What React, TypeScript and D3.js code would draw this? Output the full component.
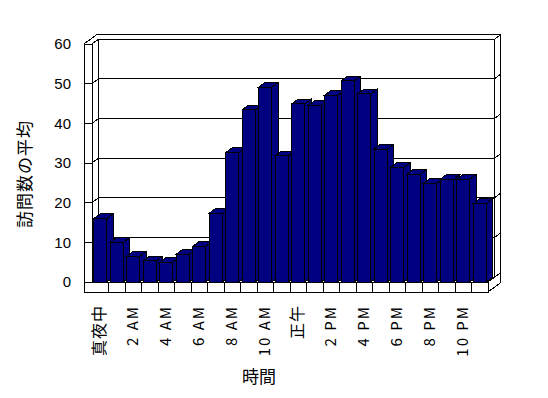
import { useEffect, useRef } from 'react'
import * as d3 from 'd3'

const hours = d3.range(24).map(String)
const visits = [16, 10, 6.5, 5.3, 5.0, 7.0, 9.0, 17.3, 32.6, 43.4, 49.1, 31.8, 44.9, 44.5, 47.1, 50.7, 47.4, 33.5, 28.9, 27.2, 24.9, 25.9, 25.9, 19.8]
const hourLabels = ['真夜中', '2 AM', '4 AM', '6 AM', '8 AM', '10 AM', '正午', '2 PM', '4 PM', '6 PM', '8 PM', '10 PM']
const yTicks = [0, 10, 20, 30, 40, 50, 60]

const JP = '"Noto Sans CJK JP", "Noto Sans", sans-serif'
const NAVY = '#000080'

export default function App() {
  const ref = useRef<SVGSVGElement>(null)

  useEffect(() => {
    document.body.style.margin = '0'
    const svg = d3.select(ref.current)
    svg.selectAll('*').remove()

    const x0 = 92, x1 = 488
    const wallLeft = 84
    const floorH = 10
    const dx = 6.3, dy = -4.7 // depth step

    const x = d3.scaleBand<string>().domain(hours).range([x0, x1]).paddingInner(0.2).paddingOuter(0.1)
    const step = x.step()
    const y = d3.scaleLinear().domain([0, 60]).range([282, 44])
    const y0 = y(0), yTop = y(60)

    const g = svg.append('g').attr('shape-rendering', 'crispEdges')
    const pts = (p: number[][]) => p.map(d => d.join(',')).join(' ')
    const line = (a: number, b: number, c: number, d: number) =>
      g.append('line').attr('x1', a).attr('y1', b).attr('x2', c).attr('y2', d).attr('stroke', '#000')

    // back wall
    g.append('rect').attr('x', x0 + dx).attr('y', yTop + dy).attr('width', x1 - x0).attr('height', y0 - yTop)
      .attr('fill', '#fff').attr('stroke', '#000')
    g.append('polygon').attr('points', pts([[x0 + dx, yTop + dy], [x1 + dx, yTop + dy], [x1 + 2 * dx, yTop + 2 * dy], [x0 + 2 * dx, yTop + 2 * dy]]))
      .attr('fill', '#fff')
    g.append('polygon').attr('points', pts([[x1 + dx, yTop + dy], [x1 + 2 * dx, yTop + 2 * dy], [x1 + 2 * dx, y0 + 2 * dy], [x1 + dx, y0 + dy]]))
      .attr('fill', '#fff').attr('stroke', '#000')
    line(wallLeft + 2 * dx, yTop + 2 * dy, x1 + 2 * dx, yTop + 2 * dy)
    yTicks.slice(1, -1).forEach(v => {
      line(x0 + dx, y(v) + dy, x1 + dx, y(v) + dy)
      line(x1 + dx, y(v) + dy, x1 + 2 * dx, y(v) + 2 * dy)
    })

    // floor
    g.append('polygon').attr('points', pts([[x0, y0], [x1, y0], [x1 + dx, y0 + dy], [x0 + dx, y0 + dy]]))
      .attr('fill', '#fff').attr('stroke', '#000')
    g.append('rect').attr('x', wallLeft).attr('y', y0).attr('width', x1 - wallLeft).attr('height', floorH)
      .attr('fill', '#fff').attr('stroke', '#000')
    g.append('polygon').attr('points', pts([[x1, y0], [x1, y0 + floorH], [x1 + 2 * dx, y0 + floorH + 2 * dy], [x1 + 2 * dx, y0 + 2 * dy]]))
      .attr('fill', '#fff').attr('stroke', '#000')
    hours.slice(1).forEach((h, i) => {
      const xx = x0 + step * (i + 1)
      line(xx, y0, xx, y0 + floorH)
    })

    // left wall
    g.append('rect').attr('x', wallLeft).attr('y', yTop).attr('width', x0 - wallLeft).attr('height', y0 - yTop)
      .attr('fill', '#fff').attr('stroke', '#000')
    g.append('polygon').attr('points', pts([[x0, yTop], [x0 + dx, yTop + dy], [x0 + dx, y0 + dy], [x0, y0]]))
      .attr('fill', '#fff').attr('stroke', '#000')
    g.append('polygon').attr('points', pts([[wallLeft, yTop], [x0, yTop], [x0 + dx, yTop + dy], [x0 + dx, yTop + 2 * dy], [wallLeft + 2 * dx, yTop + 2 * dy]]))
      .attr('fill', '#fff')
    line(wallLeft, yTop, wallLeft + 2 * dx, yTop + 2 * dy)
    line(wallLeft, yTop, x0, yTop)
    line(x0, yTop, x0 + dx, yTop + dy)
    yTicks.slice(1, -1).forEach(v => {
      line(wallLeft, y(v), x0, y(v))
      line(x0, y(v), x0 + dx, y(v) + dy)
    })

    // bars
    const bw = x.bandwidth()
    hours.forEach((h, i) => {
      const bx = x(h)!, by = y(visits[i])
      const bar = g.append('g').attr('fill', NAVY).attr('stroke', '#000')
      bar.append('polygon').attr('points', pts([[bx + bw, by], [bx + bw + dx, by + dy], [bx + bw + dx, y0 + dy], [bx + bw, y0]]))
      bar.append('polygon').attr('points', pts([[bx, by], [bx + dx, by + dy], [bx + bw + dx, by + dy], [bx + bw, by]]))
      bar.append('rect').attr('x', bx).attr('y', by).attr('width', bw).attr('height', y0 - by)
    })

    // y ticks
    svg.append('g').selectAll('text').data(yTicks).join('text')
      .attr('x', 71).attr('y', d => y(d)).attr('dy', '0.36em')
      .attr('text-anchor', 'end')
      .attr('font-family', '"Liberation Sans Narrow", "Liberation Sans", sans-serif')
      .attr('font-size', 15)
      .text(d => d)

    // x labels
    svg.append('g').selectAll('text').data(hourLabels).join('text')
      .attr('transform', (d, i) => `translate(${x(hours[i * 2])! + bw / 2 + 5},305) rotate(-90)`)
      .attr('text-anchor', 'end')
      .attr('font-family', JP)
      .attr('font-size', d => /[A-Z]/.test(d) ? 15 : 16)
      .attr('letter-spacing', d => /[A-Z]/.test(d) ? 2 : 1)
      .text(d => d)

    svg.append('text')
      .attr('x', 259).attr('y', 383)
      .attr('text-anchor', 'middle')
      .attr('font-family', JP).attr('font-size', 17)
      .text('時間')

    svg.append('text')
      .attr('transform', 'translate(31,174) rotate(-90)')
      .attr('text-anchor', 'middle')
      .attr('font-family', JP).attr('font-size', 17)
      .attr('letter-spacing', 1)
      .text('訪問数の平均')
  }, [])

  return <svg ref={ref} width={548} height={398} style={{ display: 'block', background: '#fff' }} />
}
